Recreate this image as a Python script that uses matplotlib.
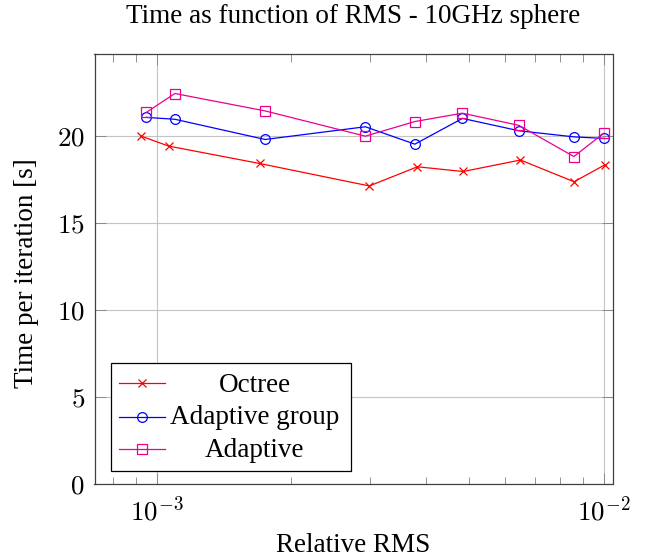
import numpy as np
import matplotlib
matplotlib.use('Agg')
import matplotlib.pyplot as plt
from matplotlib.patches import Rectangle
from matplotlib.lines import Line2D

plt.rcParams['font.family'] = ['Liberation Serif', 'DejaVu Serif']
plt.rcParams['mathtext.fontset'] = 'cm'

# data
octree_rms = [9.24e-4, 1.064e-3, 1.70e-3, 2.99e-3, 3.83e-3, 4.85e-3, 6.51e-3, 8.58e-3, 1.005e-2]
octree_time = [20.0, 19.43, 18.43, 17.14, 18.24, 17.97, 18.63, 17.38, 18.35]

adaptive_rms = [9.49e-4, 1.099e-3, 1.749e-3, 2.93e-3, 3.78e-3, 4.83e-3, 6.46e-3, 8.57e-3, 1.0e-2]
group_time = [21.08, 20.97, 19.81, 20.54, 19.54, 21.02, 20.31, 19.96, 19.87]
adaptive_time = [21.37, 22.45, 21.45, 20.0, 20.84, 21.32, 20.62, 18.83, 20.17]

labels = ['Octree', 'Adaptive group', 'Adaptive']
colors = ['#ff0000', '#0000ff', '#ec008c']
markers = ['x', 'o', 's']
msizes = [6, 7, 7]

xticks = [1e-3, 1e-2]
xticklabels = [r'$10^{-3}$', r'$10^{-2}$']
yticks = [0, 5, 10, 15, 20]
yticklabels = [r'$%d$' % v for v in yticks]

fs = 19.5

fig = plt.figure(figsize=(6.6, 5.57), dpi=100)
ax = fig.add_axes([94.5 / 660, 1 - 484.3 / 557, 518 / 660, 430.3 / 557])

series = [(octree_rms, octree_time), (adaptive_rms, group_time), (adaptive_rms, adaptive_time)]
for (xs, ys), c, m, ms in zip(series, colors, markers, msizes):
    ax.plot(xs, ys, color=c, marker=m, markersize=ms, markerfacecolor='none',
            markeredgecolor=c, markeredgewidth=0.9, lw=0.9, zorder=3)

ax.set_xscale('log')
ax.set_xlim(7.265e-4, 1.0457e-2)
ax.set_ylim(0, 24.72)

ax.set_xticks(xticks)
ax.set_xticklabels(xticklabels, fontsize=fs)
ax.set_yticks(yticks)
ax.set_yticklabels(yticklabels, fontsize=fs)
ax.xaxis.set_minor_locator(matplotlib.ticker.LogLocator(base=10, subs=np.arange(2, 10)))
ax.xaxis.set_minor_formatter(matplotlib.ticker.NullFormatter())

ax.tick_params(which='major', direction='in', length=8, width=0.6, color='#808080',
               top=True, right=True, pad=7)
ax.tick_params(axis='x', which='major', pad=9)
ax.tick_params(which='minor', direction='in', length=5.4, width=0.6, color='#808080',
               top=True, right=True)
ax.grid(True, which='major', color='#c4c4c4', lw=0.8)
ax.set_axisbelow(True)
for sp in ax.spines.values():
    sp.set_color('#404040')
    sp.set_linewidth(0.9)

ax.set_title('Time as function of RMS - 10GHz sphere', fontsize=fs, pad=22.5)
ax.set_xlabel('Relative RMS', fontsize=fs)
ax.xaxis.set_label_coords(0.5, -0.1574)
ax.xaxis.label.set_va('baseline')
ax.set_ylabel('Time per iteration [s]', fontsize=fs)
ax.yaxis.set_label_coords(-0.1066, 0.49)

# legend box drawn by hand so the labels can be centred like pgfplots
ax.add_patch(Rectangle((0.0319, 0.0316), 0.4633, 0.251, transform=ax.transAxes,
                       facecolor='white', edgecolor='black', lw=0.9, zorder=5))
row_y = [0.2347, 0.1571, 0.0813]
base_y = [0.2152, 0.1401, 0.0641]
for lab, c, m, ms, ry, by in zip(labels, colors, markers, msizes, row_y, base_y):
    ax.add_line(Line2D([0.0479, 0.1361], [ry, ry], transform=ax.transAxes, color=c,
                       lw=0.9, zorder=6))
    ax.add_line(Line2D([0.0911], [ry], transform=ax.transAxes, color=c, marker=m,
                       markersize=ms, markerfacecolor='none', markeredgewidth=0.9, zorder=6))
    ax.text(0.3098, by, lab, transform=ax.transAxes, ha='center', va='baseline',
            fontsize=fs, zorder=7)

fig.savefig('out.png', dpi=100)
